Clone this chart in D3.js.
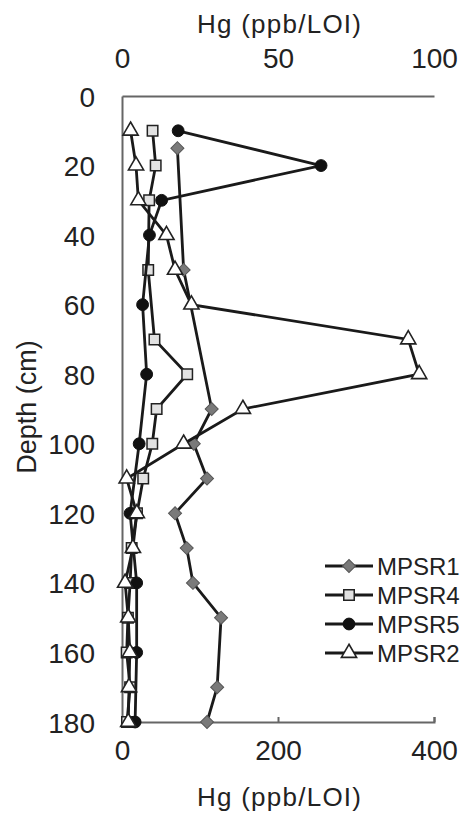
<!DOCTYPE html>
<html>
<head>
<meta charset="utf-8">
<script src="https://cdnjs.cloudflare.com/ajax/libs/d3/7.8.5/d3.min.js"></script>
<style>
  body { margin: 0; background: #fff; }
  text { font-family: "Liberation Sans", Arial, sans-serif; fill: #222; }
</style>
</head>
<body>
<div id="chart"></div>
<script>
// Data (depth in cm, Hg in ppb/LOI)
// MPSR1 and MPSR2 are on the bottom axis (0-400), MPSR4 and MPSR5 on the top axis (0-100)
var mpsr1Depth = [15, 50, 90, 100, 110, 120, 130, 140, 150, 170, 180];
var mpsr1Hg = [71, 79, 115, 92, 109, 68, 83, 91, 127, 122, 109];

var mpsr4Depth = [10, 20, 30, 50, 70, 80, 90, 100, 110, 120, 130, 140, 150, 160, 170, 180];
var mpsr4Hg = [9.8, 10.8, 8.7, 8.4, 10.4, 20.9, 11.1, 9.7, 6.8, 4.8, 3.1, 2.6, 1.9, 1.5, 2.6, 1.6];

var mpsr5Depth = [10, 20, 30, 40, 60, 80, 100, 120, 140, 160, 180];
var mpsr5Hg = [18, 63.8, 12.7, 8.8, 6.6, 7.9, 5.5, 2.6, 4.7, 4.7, 4.2];

var mpsr2Depth = [10, 20, 30, 40, 50, 60, 70, 80, 90, 100, 110, 120, 130, 140, 150, 160, 170, 180];
var mpsr2Hg = [11, 18, 21, 57, 68, 89, 367, 381, 155, 79, 6, 19, 14, 4, 8, 10, 9, 8];

var seriesNames = ["MPSR1", "MPSR4", "MPSR5", "MPSR2"];
var depthTicks = [0, 20, 40, 60, 80, 100, 120, 140, 160, 180];
var bottomTicks = [0, 200, 400];
var topTicks = [0, 50, 100];

var svgWidth = 461;
var svgHeight = 814;

var svg = d3.select("#chart")
    .append("svg")
    .attr("width", svgWidth)
    .attr("height", svgHeight);

// Scales
var yScale = d3.scaleLinear().domain([0, 180]).range([96, 722]);
var xBottom = d3.scaleLinear().domain([0, 400]).range([122, 434]);
var xTop = d3.scaleLinear().domain([0, 100]).range([122, 434]);

// Axes
var axisColor = "#666";

var leftAxis = d3.axisLeft(yScale).tickValues(depthTicks).tickSize(0).tickPadding(27);
var gLeft = svg.append("g").attr("transform", "translate(122,0)").call(leftAxis);

var topAxis = d3.axisTop(xTop).tickValues(topTicks).tickSize(0).tickPadding(28);
var gTop = svg.append("g").attr("transform", "translate(0,96)").call(topAxis);

var bottomAxis = d3.axisBottom(xBottom).tickValues(bottomTicks).tickSize(-5).tickPadding(18);
var gBottom = svg.append("g").attr("transform", "translate(0,722)").call(bottomAxis);

[gLeft, gTop, gBottom].forEach(function(g) {
    g.select(".domain").attr("stroke", axisColor).attr("stroke-width", 2);
    g.selectAll(".tick line").attr("stroke", axisColor).attr("stroke-width", 2);
    g.selectAll(".tick text")
        .attr("font-size", 28)
        .attr("font-family", "Liberation Sans, Arial, sans-serif")
        .attr("fill", "#222");
});
gLeft.selectAll(".tick text").attr("dy", "0.36em");

// Axis titles
svg.append("text")
    .attr("x", 279)
    .attr("y", 33)
    .attr("text-anchor", "middle")
    .attr("font-size", 26)
    .attr("textLength", 164)
    .text("Hg (ppb/LOI)");

svg.append("text")
    .attr("x", 279)
    .attr("y", 806)
    .attr("text-anchor", "middle")
    .attr("font-size", 26)
    .attr("textLength", 164)
    .text("Hg (ppb/LOI)");

svg.append("text")
    .attr("transform", "translate(36,407) rotate(-90)")
    .attr("text-anchor", "middle")
    .attr("font-size", 27)
    .text("Depth (cm)");

// Marker styles for each series
var styles = {
    MPSR1: { symbol: d3.symbolSquare, size: 85, rotate: 45, fill: "#7a7a7a", stroke: "#555", sw: 1 },
    MPSR4: { symbol: d3.symbolSquare, size: 110, rotate: 0, fill: "#e2e2e2", stroke: "#222", sw: 1.5 },
    MPSR5: { symbol: d3.symbolCircle, size: 110, rotate: 0, fill: "#111", stroke: "#111", sw: 1 },
    MPSR2: { symbol: d3.symbolTriangle, size: 100, rotate: 0, fill: "#fff", stroke: "#222", sw: 1.6 }
};

var seriesList = [
    { name: "MPSR1", depth: mpsr1Depth, hg: mpsr1Hg, x: xBottom },
    { name: "MPSR4", depth: mpsr4Depth, hg: mpsr4Hg, x: xTop },
    { name: "MPSR5", depth: mpsr5Depth, hg: mpsr5Hg, x: xTop },
    { name: "MPSR2", depth: mpsr2Depth, hg: mpsr2Hg, x: xBottom }
];

seriesList.forEach(function(s) {
    var pts = s.depth.map(function(d, i) { return { depth: d, hg: s.hg[i] }; });
    var st = styles[s.name];

    var line = d3.line()
        .x(function(d) { return s.x(d.hg); })
        .y(function(d) { return yScale(d.depth); });

    svg.append("path")
        .datum(pts)
        .attr("d", line)
        .attr("fill", "none")
        .attr("stroke", "#1a1a1a")
        .attr("stroke-width", 2.8);

    svg.selectAll(".m-" + s.name)
        .data(pts)
        .enter()
        .append("path")
        .attr("class", "m-" + s.name)
        .attr("d", d3.symbol().type(st.symbol).size(st.size))
        .attr("transform", function(d) {
            return "translate(" + s.x(d.hg) + "," + yScale(d.depth) + ") rotate(" + st.rotate + ")";
        })
        .attr("fill", st.fill)
        .attr("stroke", st.stroke)
        .attr("stroke-width", st.sw);
});

// Legend
var legend = svg.append("g");
seriesNames.forEach(function(name, i) {
    var st = styles[name];
    var y = 566 + i * 29;
    legend.append("line")
        .attr("x1", 325).attr("x2", 373)
        .attr("y1", y).attr("y2", y)
        .attr("stroke", "#1a1a1a")
        .attr("stroke-width", 2.8);
    legend.append("path")
        .attr("d", d3.symbol().type(st.symbol).size(st.size))
        .attr("transform", "translate(349," + y + ") rotate(" + st.rotate + ")")
        .attr("fill", st.fill)
        .attr("stroke", st.stroke)
        .attr("stroke-width", st.sw);
    legend.append("text")
        .attr("x", 377)
        .attr("y", y)
        .attr("dy", "0.36em")
        .attr("font-size", 24)
        .text(name);
});
</script>
</body>
</html>
